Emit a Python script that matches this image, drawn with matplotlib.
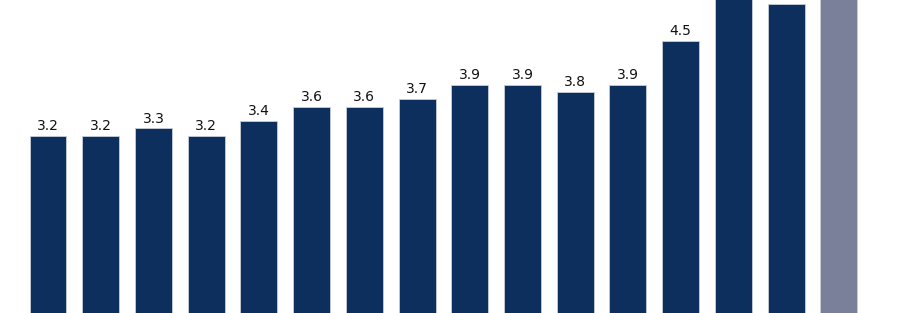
import numpy as np
import matplotlib.pyplot as plt

values = [3.2, 3.2, 3.3, 3.2, 3.4, 3.6, 3.6, 3.7, 3.9, 3.9, 3.8, 3.9, 4.5, 5.3, 5.0, 5.4]
labels = ["3.2", "3.2", "3.3", "3.2", "3.4", "3.6", "3.6", "3.7", "3.9", "3.9",
          "3.8", "3.9", "4.5", "5.3", "5.0", "5.4"]
colors = ["#0c2f5e"] * 15 + ["#7a8099"]

fig = plt.figure(figsize=(9, 3.13), dpi=100)
ax = fig.add_axes([0, 0, 1, 1])

x = np.arange(len(values))
bars = ax.bar(x, values, width=0.70, color=colors, edgecolor="#c8cdd8", linewidth=0.6)

for xi, v, lab in zip(x, values, labels):
    ax.annotate(lab, (xi, v), xytext=(0, 2), textcoords="offset points",
                ha="center", va="bottom", fontsize=10, color="#111111")

ax.set_xlim(-0.91, 16.16)
ax.set_ylim(0.77, 5.06)
ax.axis("off")

fig.savefig("out.png", dpi=100)
